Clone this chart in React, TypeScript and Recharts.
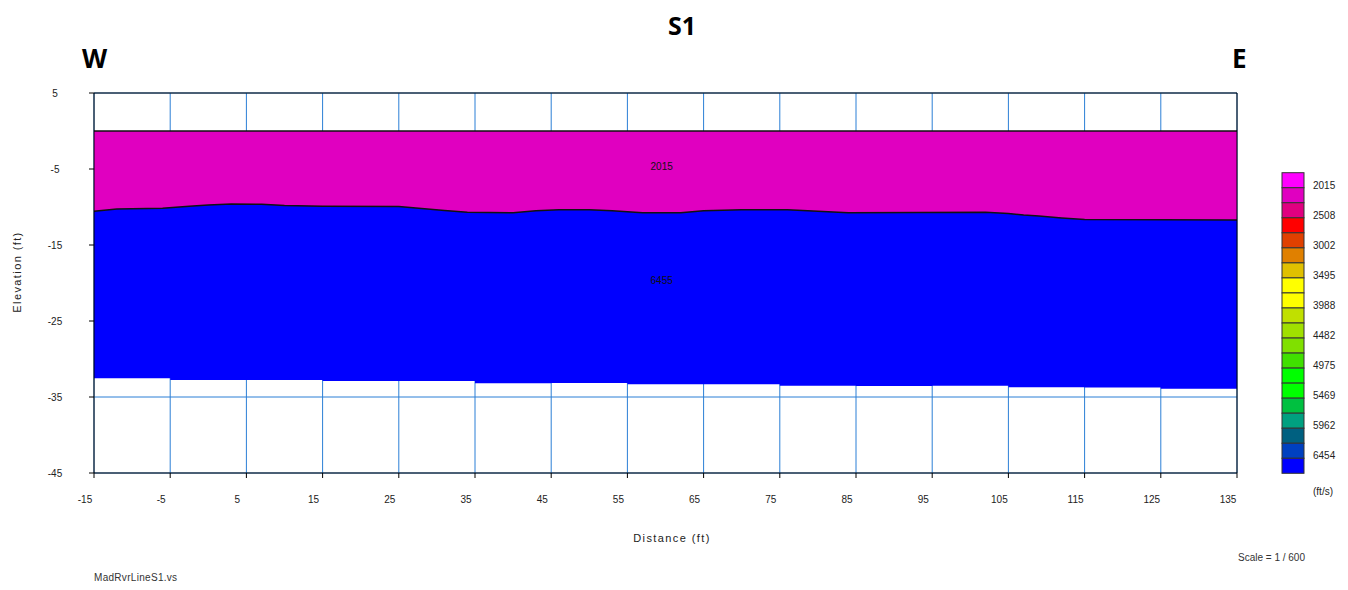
import React from 'react';
import { ComposedChart, Area, XAxis, YAxis, CartesianGrid, ReferenceDot } from 'recharts';

// distance / elevation axes (ft)
const distanceTicks = [-15, -5, 5, 15, 25, 35, 45, 55, 65, 75, 85, 95, 105, 115, 125, 135];
const elevationTicks = [5, -5, -15, -25, -35, -45];

// boundary between the 2015 ft/s layer and the 6455 ft/s layer
const interfaceDistance = [-15, -12, -6, -2.5, 0, 3, 7, 10, 15, 25, 28, 31, 34, 40, 43, 46, 50, 53, 57, 62, 65, 70, 76, 80, 84, 102, 105, 107, 109, 112, 115, 135];
const interfaceElevation = [-10.55, -10.25, -10.15, -9.9, -9.75, -9.6, -9.65, -9.8, -9.9, -9.95, -10.2, -10.45, -10.7, -10.75, -10.5, -10.35, -10.35, -10.5, -10.75, -10.75, -10.5, -10.35, -10.35, -10.55, -10.75, -10.7, -10.85, -11.05, -11.2, -11.45, -11.65, -11.7];

// bottom of the section (steps every 10 ft)
const baseDistance = [-15, -5, 5, 15, 25, 35, 45, 55, 65, 75, 85, 95, 105, 115, 125, 135];
const baseElevation = [-32.54, -32.76, -32.76, -32.89, -32.89, -33.2, -33.16, -33.33, -33.33, -33.51, -33.55, -33.51, -33.72, -33.76, -33.9, -33.9];

const groundElevation = 0;

// velocity legend
const legendColors = [
  '#ff00ff', '#e000c0', '#e00080', '#ff0000', '#e04000', '#e08000', '#e0c000', '#ffff00', '#ffff00', '#c0e000',
  '#a0e000', '#80e000', '#40e000', '#00ff00', '#00ff00', '#00c040', '#00a080', '#006080', '#0040c0', '#0000ff',
];
const legendLabels = ['2015', '2508', '3002', '3495', '3988', '4482', '4975', '5469', '5962', '6454'];

const layerLabels = [
  { x: 59.5, y: -4.7, text: '2015' },
  { x: 59.5, y: -19.7, text: '6455' },
];

const upperData = interfaceDistance.map((x, i) => ({ x, band: [interfaceElevation[i], groundElevation] }));
const lowerData = baseDistance.map((x, i) => ({ x, band: [baseElevation[i], groundElevation] }));

const FONT = '"Liberation Sans", Arial, sans-serif';
const GRID = '#2b7fd6';

const YTick = ({ y, payload }: any) => (
  <text x={55} y={y + 3.5} textAnchor="middle" fontSize={10} fontFamily={FONT} fill="#222">
    {payload.value}
  </text>
);

const XTick = ({ x, payload }: any) => (
  <text x={x - 9} y={503} textAnchor="middle" fontSize={10} fontFamily={FONT} fill="#222">
    {payload.value}
  </text>
);

export default function App() {
  const boxTop = 172.7;
  const boxH = 15.03;

  return (
    <div style={{ position: 'absolute', left: 0, top: 0, width: 1348, height: 590, background: '#fff', fontFamily: FONT }}>
      <ComposedChart
        width={1348}
        height={590}
        margin={{ top: 83, right: 91, bottom: 77, left: 54 }}
      >
        <CartesianGrid stroke={GRID} strokeWidth={1} />
        <XAxis
          dataKey="x"
          type="number"
          domain={[-15, 135]}
          ticks={distanceTicks}
          allowDataOverflow
          height={40}
          stroke="#000"
          tickSize={5}
          tick={<XTick />}
          interval={0}
        />
        <XAxis
          xAxisId="top"
          orientation="top"
          type="number"
          domain={[-15, 135]}
          ticks={distanceTicks}
          height={10}
          stroke="#000"
          tickSize={5}
          tick={false}
          interval={0}
        />
        <YAxis
          type="number"
          domain={[-45, 5]}
          ticks={elevationTicks}
          allowDataOverflow
          width={40}
          stroke="#000"
          tickSize={5}
          tick={<YTick />}
          interval={0}
        />
        <YAxis
          yAxisId="right"
          orientation="right"
          type="number"
          domain={[-45, 5]}
          ticks={elevationTicks}
          width={20}
          stroke="#000"
          tickSize={5}
          tick={false}
          interval={0}
        />
        <Area
          data={lowerData}
          dataKey="band"
          type="stepAfter"
          fill="#0000ff"
          fillOpacity={1}
          stroke="none"
          isAnimationActive={false}
        />
        <Area
          data={upperData}
          dataKey="band"
          type="linear"
          fill="#e000c0"
          fillOpacity={1}
          stroke="#111"
          strokeWidth={1.5}
          isAnimationActive={false}
        />
        {layerLabels.map((l) => (
          <ReferenceDot
            key={l.text}
            x={l.x}
            y={l.y}
            r={0}
            fill="none"
            stroke="none"
            label={{ value: l.text, position: 'center', fontSize: 10, fill: '#111', fontFamily: FONT }}
          />
        ))}
      </ComposedChart>

      <div style={{ position: 'absolute', left: 0, width: 1348, top: 8, textAlign: 'center', paddingLeft: 16, boxSizing: 'border-box', fontFamily: '"Open Sans", sans-serif', fontWeight: 700, fontSize: 25, lineHeight: '34px' }}>
        S1
      </div>
      <div style={{ position: 'absolute', left: 82, top: 41, fontFamily: '"Open Sans", sans-serif', fontWeight: 700, fontSize: 26, lineHeight: '34px' }}>W</div>
      <div style={{ position: 'absolute', left: 1232, top: 41, fontFamily: '"Open Sans", sans-serif', fontWeight: 700, fontSize: 26, lineHeight: '34px' }}>E</div>

      <div style={{ position: 'absolute', left: 17, top: 272, transform: 'translate(-50%, -50%) rotate(-90deg)', whiteSpace: 'nowrap', fontSize: 11, letterSpacing: 1.4, color: '#222' }}>
        Elevation (ft)
      </div>
      <div style={{ position: 'absolute', left: 672, top: 538, transform: 'translate(-50%, -50%)', whiteSpace: 'nowrap', fontSize: 11, letterSpacing: 1.4, color: '#222' }}>
        Distance (ft)
      </div>

      <div style={{ position: 'absolute', left: 94, top: 572, fontSize: 10, letterSpacing: 0.3, color: '#333', lineHeight: '12px' }}>MadRvrLineS1.vs</div>
      <div style={{ position: 'absolute', left: 1238, top: 552, fontSize: 10, color: '#333', lineHeight: '12px' }}>Scale = 1 / 600</div>

      <svg style={{ position: 'absolute', left: 0, top: 0 }} width={1348} height={590}>
        {legendColors.map((c, i) => (
          <rect key={i} x={1282} y={boxTop + i * boxH} width={22} height={boxH} fill={c} stroke="#333" strokeWidth={1} />
        ))}
        {legendLabels.map((t, i) => (
          <text key={t} x={1313} y={boxTop + (2 * i + 1) * boxH + 1} fontSize={10} fontFamily={FONT} fill="#222">
            {t}
          </text>
        ))}
        <text x={1313} y={495} fontSize={10} fontFamily={FONT} fill="#222">(ft/s)</text>
      </svg>
    </div>
  );
}
